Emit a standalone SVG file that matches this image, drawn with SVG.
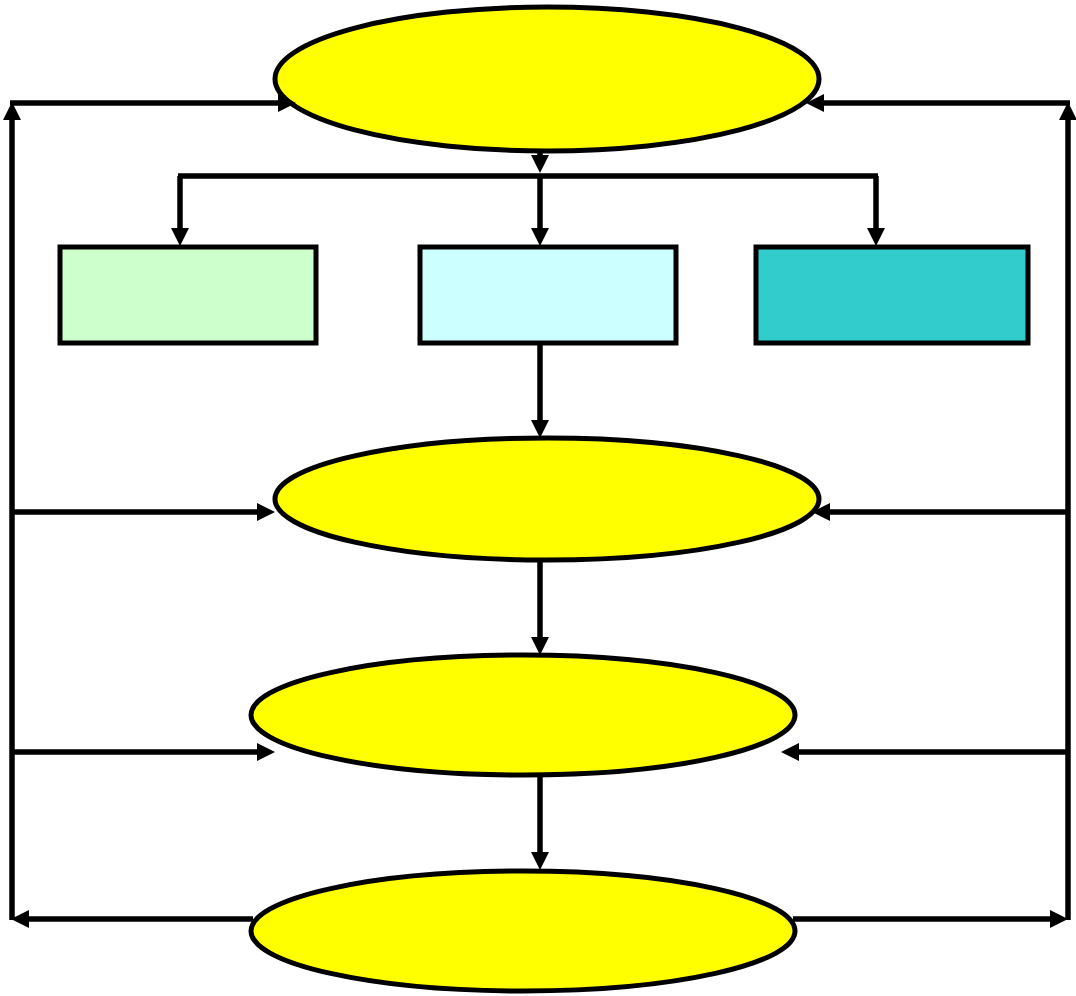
<svg xmlns="http://www.w3.org/2000/svg" width="1076" height="996" viewBox="0 0 1076 996">
<style>
.node{stroke:#000;stroke-width:5}
.ell{fill:#ffff00}
.conn{fill:none;stroke:#000;stroke-width:5.5}
</style>
<defs>
<marker id="ah" markerUnits="userSpaceOnUse" markerWidth="19" markerHeight="18" refX="8" refY="9" orient="auto" viewBox="0 0 19 18">
<path d="M0,0 L18,9 L0,18 z" fill="#000"/>
</marker>
</defs>
<rect width="1076" height="996" fill="#fff"/>
<g id="e1"><ellipse class="node ell" cx="547" cy="79" rx="272" ry="72"/></g>
<g id="r1"><rect class="node" x="60" y="247" width="256" height="96" fill="#ccffcc"/></g>
<g id="r2"><rect class="node" x="420" y="247" width="256" height="96" fill="#ccffff"/></g>
<g id="r3"><rect class="node" x="756" y="247" width="272" height="96" fill="#33cccc"/></g>
<g id="e2"><ellipse class="node ell" cx="547" cy="499" rx="272" ry="61"/></g>
<g id="e3"><ellipse class="node ell" cx="523" cy="715" rx="272" ry="60"/></g>
<g id="e4"><ellipse class="node ell" cx="523" cy="931" rx="272" ry="60"/></g>
<g id="connectors">
<path class="conn" d="M540,151 V163" marker-end="url(#ah)"/>
<path class="conn" d="M178,176 H878"/>
<path class="conn" d="M180,176 V236" marker-end="url(#ah)"/>
<path class="conn" d="M540,176 V236" marker-end="url(#ah)"/>
<path class="conn" d="M876,176 V236" marker-end="url(#ah)"/>
<path class="conn" d="M540,343 V428" marker-end="url(#ah)"/>
<path class="conn" d="M540,560 V645" marker-end="url(#ah)"/>
<path class="conn" d="M540,775 V860" marker-end="url(#ah)"/>
<path class="conn" d="M12,920 V112" marker-end="url(#ah)"/>
<path class="conn" d="M10,103 H286" marker-end="url(#ah)"/>
<path class="conn" d="M1068,920 V112" marker-end="url(#ah)"/>
<path class="conn" d="M1070,103 H816" marker-end="url(#ah)"/>
<path class="conn" d="M12,512 H265" marker-end="url(#ah)"/>
<path class="conn" d="M1068,512 H822" marker-end="url(#ah)"/>
<path class="conn" d="M12,752 H265" marker-end="url(#ah)"/>
<path class="conn" d="M1068,752 H791" marker-end="url(#ah)"/>
<path class="conn" d="M253,919 H21" marker-end="url(#ah)"/>
<path class="conn" d="M793,919 H1058" marker-end="url(#ah)"/>
</g>
</svg>
